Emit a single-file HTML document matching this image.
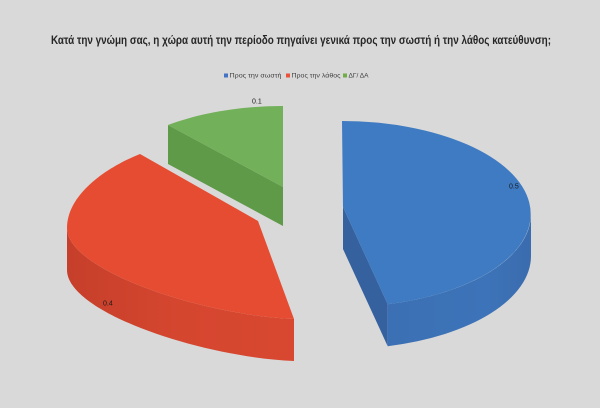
<!DOCTYPE html>
<html>
<head>
<meta charset="utf-8">
<style>
html,body{margin:0;padding:0;background:#d9d9d9;}
svg{display:block;}
text{font-family:"Liberation Sans","DejaVu Sans",sans-serif;}
</style>
</head>
<body>
<svg width="600" height="408" viewBox="0 0 600 408" xmlns="http://www.w3.org/2000/svg">
<defs>
  <linearGradient id="redSide" x1="0" y1="0" x2="1" y2="0">
    <stop offset="0" stop-color="#c63f2a"/>
    <stop offset="0.5" stop-color="#d5462f"/>
    <stop offset="1" stop-color="#d84831"/>
  </linearGradient>
  <linearGradient id="blueSide" x1="0" y1="0" x2="1" y2="0">
    <stop offset="0" stop-color="#3b70b4"/>
    <stop offset="0.7" stop-color="#3d73b8"/>
    <stop offset="1" stop-color="#3a6cae"/>
  </linearGradient>
</defs>
<rect width="600" height="408" fill="#d9d9d9"/>

<!-- Title -->
<text x="51" y="44" font-size="11.5" font-weight="bold" fill="#262626" textLength="500" lengthAdjust="spacingAndGlyphs">Κατά την γνώμη σας, η χώρα αυτή την περίοδο πηγαίνει γενικά προς την σωστή ή την λάθος κατεύθυνση;</text>

<!-- Legend -->
<rect x="224" y="73.5" width="4" height="4" fill="#4472c4"/>
<text x="229.5" y="77.6" font-size="6" fill="#404040" textLength="52" lengthAdjust="spacingAndGlyphs">Προς την σωστή</text>
<rect x="286" y="73.5" width="4" height="4" fill="#e8543a"/>
<text x="291.5" y="77.6" font-size="6" fill="#404040" textLength="49" lengthAdjust="spacingAndGlyphs">Προς την λάθος</text>
<rect x="343" y="73.5" width="4" height="4" fill="#70ad47"/>
<text x="348.5" y="77.6" font-size="6" fill="#404040" textLength="20" lengthAdjust="spacingAndGlyphs">ΔΓ/ ΔΑ</text>

<!-- Green slice -->
<path d="M168,125 L283,187 L283,226 L168,164 Z" fill="#5f9a49"/>
<path d="M283,187 L168,125 C200,113 240,106 283,106 Z" fill="#72b05a"/>

<!-- Red slice -->
<path d="M67,228 C67,270 200,315 294,319 L294,361 C200,357 67,312 67,270 Z" fill="url(#redSide)"/>
<path d="M258,221 L140,154 C105,168 67,195 67,228 C67,270 200,315 294,319 Z" fill="#e64c31"/>

<!-- Blue slice -->
<path d="M343,207 L387.7,304.2 L387.7,346.2 L343,249 Z" fill="#35619f"/>
<path d="M531,214 A189,93 0 0 1 387.7,304.2 L387.7,346.2 A189,93 0 0 0 531,256 Z" fill="url(#blueSide)"/>
<path d="M342,121 A189,93 0 0 1 387.7,304.2 L343,207 Z" fill="#3f7bc2"/>

<!-- Data labels -->
<text x="509" y="188.5" font-size="7" fill="#1a1a1a">0.5</text>
<text x="103" y="305.5" font-size="7" fill="#1a1a1a">0.4</text>
<text x="252" y="103.5" font-size="7" fill="#1a1a1a">0.1</text>
</svg>
</body>
</html>
